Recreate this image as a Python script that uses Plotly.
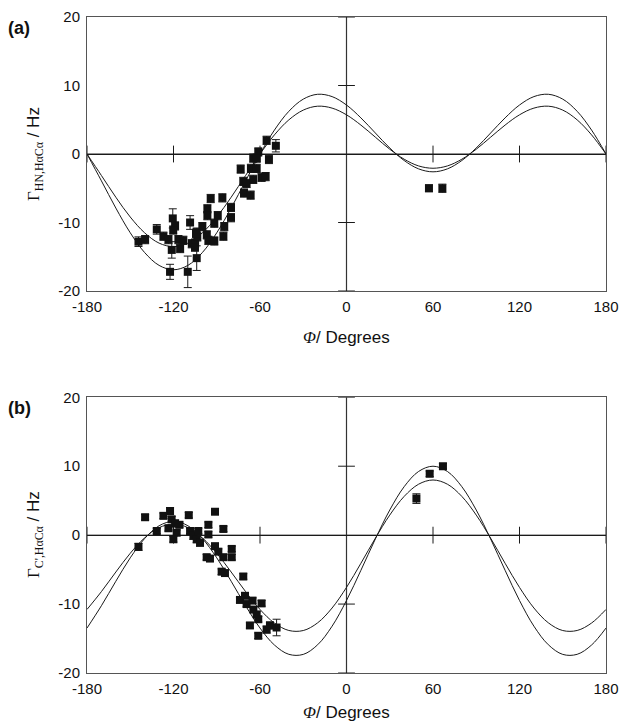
import plotly.graph_objects as go

# ---------------- data ----------------
X_TICKS = [-180, -120, -60, 0, 60, 120, 180]
X_TICK_TEXT = ["-180", "-120", "-60", "0", "60", "120", "180"]
Y_TICKS = [-20, -10, 0, 10, 20]
Y_TICK_TEXT = ["-20", "-10", "0", "10", "20"]

PHI_CURVE = [-180, -170, -160, -150, -140, -130, -120, -110, -100, -90, -80, -70, -60,
             -50, -40, -30, -20, -10, 0, 10, 20, 30, 40, 50, 60, 70, 80, 90, 100,
             110, 120, 130, 140, 150, 160, 170, 180]

# panel (a) model curves
A_CURVE_OUTER = [0.0, -3.92, -7.89, -11.50, -14.39, -16.26, -16.90, -16.26, -14.39, -11.50,
                 -7.89, -3.92, 0.0, 3.49, 6.23, 8.01, 8.72, 8.38, 7.15, 5.27, 3.07, 0.88,
                 -0.95, -2.17, -2.60, -2.17, -0.95, 0.88, 3.07, 5.27, 7.15, 8.38, 8.72,
                 8.01, 6.23, 3.49, 0.0]
A_CURVE_INNER = [0.0, -3.14, -6.31, -9.20, -11.51, -13.01, -13.52, -13.01, -11.51, -9.20,
                 -6.31, -3.14, 0.0, 2.79, 4.98, 6.41, 6.98, 6.70, 5.72, 4.22, 2.46, 0.70,
                 -0.76, -1.74, -2.08, -1.74, -0.76, 0.70, 2.46, 4.22, 5.72, 6.70, 6.98,
                 6.41, 4.98, 2.79, 0.0]

# panel (b) model curves
B_CURVE_OUTER = [-13.48, -10.24, -6.69, -3.29, -0.49, 1.36, 2.00, 1.36, -0.49, -3.29,
                 -6.69, -10.24, -13.48, -15.94, -17.29, -17.30, -15.90, -13.21, -9.48,
                 -5.10, -0.56, 3.64, 7.03, 9.24, 10.00, 9.24, 7.03, 3.64, -0.56, -5.10,
                 -9.48, -13.21, -15.90, -17.30, -17.29, -15.94, -13.48]
B_CURVE_INNER = [-10.78, -8.19, -5.35, -2.63, -0.39, 1.09, 1.60, 1.09, -0.39, -2.63,
                 -5.35, -8.19, -10.78, -12.75, -13.83, -13.84, -12.72, -10.57, -7.58,
                 -4.08, -0.45, 2.91, 5.62, 7.39, 8.00, 7.39, 5.62, 2.91, -0.45, -4.08,
                 -7.58, -10.57, -12.72, -13.84, -13.83, -12.75, -10.78]

# panel (a) measured points
A_PHI = [-144.3, -139.7, -131.6, -127.0, -123.5, -120.5, -118.9, -120.2, -121.2, -122.4,
         -116.6, -115.4, -113.2, -108.5, -110.1, -107.3, -105.0, -105.1, -103.9, -103.5,
         -103.9, -100.0, -104.4, -96.9, -95.8, -96.5, -96.5, -94.2, -91.7, -91.7,
         -89.3, -86.1, -85.4, -84.8, -80.1, -80.1, -73.4, -71.6, -69.3, -71.1,
         -66.5, -66.3, -64.7, -64.7, -62.3, -61.2, -62.3, -58.9, -56.1, -53.8,
         -55.4, -49.0, 57.2, 66.5]
A_GAMMA = [-12.8, -12.5, -11.0, -12.0, -12.5, -9.4, -10.5, -11.1, -14.0, -17.2,
           -12.5, -13.8, -12.6, -10.0, -17.2, -13.1, -13.0, -13.6, -11.4, -12.1,
           -15.2, -10.6, -11.6, -11.8, -12.6, -8.0, -9.0, -6.5, -10.1, -12.7,
           -9.0, -6.4, -12.0, -10.6, -7.8, -9.3, -2.2, -4.0, -4.3, -5.7,
           -6.0, -2.1, -3.7, -0.6, -2.1, 0.3, -0.6, -3.4, -3.3, -0.8,
           2.0, 1.2, -5.0, -5.0]
A_ERR = [0.7, 0.6, 0.7, 0.6, 0.6, 1.4, 0.6, 0.6, 1.2, 1.1,
         0.6, 0.6, 0.6, 1.0, 2.3, 0.6, 0.6, 0.6, 0.6, 0.6,
         1.8, 0.6, 0.6, 0.6, 0.6, 0.6, 0.6, 0.6, 0.6, 0.6,
         0.6, 0.6, 0.6, 0.6, 0.6, 0.6, 0.6, 0.6, 0.6, 0.6,
         0.6, 0.6, 0.6, 0.6, 0.6, 0.6, 0.6, 0.6, 0.6, 0.6,
         0.6, 0.9, 0.5, 0.6]

# panel (b) measured points
B_PHI = [-144.3, -139.7, -131.6, -127.0, -122.4, -121.3, -123.5, -118.9, -115.9, -117.8,
         -120.1, -109.4, -108.5, -106.2, -103.9, -102.8, -101.6, -95.8, -95.8, -91.2,
         -85.4, -91.2, -88.9, -85.4, -79.6, -79.6, -97.0, -94.7, -86.6, -84.3,
         -71.6, -73.9, -70.4, -69.3, -65.2, -64.6, -62.3, -58.9, -61.2, -67.0,
         -61.2, -55.4, -53.1, -48.5, 48.5, 57.7, 66.9]
B_GAMMA = [-1.7, 2.6, 0.6, 2.8, 3.5, 2.3, 1.0, 1.7, 1.5, 0.35,
           -0.6, 2.9, 0.6, -0.1, -0.6, 0.6, -1.1, 1.5, 0.1, 3.4,
           0.9, -1.6, -2.4, -3.2, -2.0, -3.2, -3.2, -3.4, -5.3, -5.5,
           -6.0, -9.4, -8.8, -10.0, -9.5, -10.8, -11.5, -9.9, -12.2, -13.1,
           -14.6, -13.7, -13.1, -13.4, 5.3, 8.9, 10.0]
B_ERR = [0.5, 0.4, 0.4, 0.4, 0.5, 0.4, 0.4, 0.5, 0.4, 0.4,
         0.4, 0.4, 0.4, 0.5, 0.5, 0.4, 0.5, 0.4, 0.4, 0.4,
         0.4, 0.4, 0.4, 0.4, 0.4, 0.4, 0.4, 0.4, 0.4, 0.4,
         0.4, 0.4, 0.4, 0.4, 0.4, 0.4, 0.4, 0.4, 0.4, 0.4,
         0.4, 0.5, 0.5, 1.2, 0.7, 0.4, 0.4]

ZERO_LINE_XTICKS = [-180, -120, -60, 60, 120, 180]
ZERO_LINE_YTICKS = [-20, -10, 10, 20]

# ---------------- figure ----------------
INK = "#1a1a1a"
FRAME = "#555555"
SANS = "Liberation Sans, Arial, sans-serif"

fig = go.Figure()

panels = [
    ("x", "y", A_CURVE_OUTER, A_CURVE_INNER, A_PHI, A_GAMMA, A_ERR),
    ("x2", "y2", B_CURVE_OUTER, B_CURVE_INNER, B_PHI, B_GAMMA, B_ERR),
]

for xa, ya, outer, inner, px, py, pe in panels:
    for curve in (outer, inner):
        fig.add_trace(go.Scatter(
            x=PHI_CURVE, y=curve, mode="lines", xaxis=xa, yaxis=ya,
            line=dict(color=INK, width=1, shape="spline", smoothing=1.0),
            showlegend=False, hoverinfo="skip"))
    # cross ticks on the zero lines
    fig.add_trace(go.Scatter(
        x=ZERO_LINE_XTICKS, y=[0] * len(ZERO_LINE_XTICKS), mode="markers",
        xaxis=xa, yaxis=ya,
        marker=dict(symbol="line-ns", size=12, line=dict(color=INK, width=1)),
        showlegend=False, hoverinfo="skip"))
    fig.add_trace(go.Scatter(
        x=[0] * len(ZERO_LINE_YTICKS), y=ZERO_LINE_YTICKS, mode="markers",
        xaxis=xa, yaxis=ya,
        marker=dict(symbol="line-ew", size=12, line=dict(color=INK, width=1)),
        showlegend=False, hoverinfo="skip"))
    fig.add_trace(go.Scatter(
        x=px, y=py, mode="markers", xaxis=xa, yaxis=ya,
        marker=dict(symbol="square", size=8, color="#111111"),
        error_y=dict(type="data", array=pe, visible=True, color=INK,
                     thickness=1, width=4),
        showlegend=False, hoverinfo="skip"))

axis_common = dict(
    range=[-180, 180], tickmode="array", tickvals=X_TICKS, ticktext=X_TICK_TEXT,
    showline=True, mirror=True, linecolor=FRAME, linewidth=1, ticks="",
    showgrid=False, zeroline=False, automargin=False,
    tickfont=dict(family=SANS, size=15, color="#111111"), ticklabelstandoff=2,
)
yaxis_common = dict(
    range=[-20, 20], tickmode="array", tickvals=Y_TICKS, ticktext=Y_TICK_TEXT,
    showline=True, mirror=True, linecolor=FRAME, linewidth=1, ticks="",
    showgrid=False, zeroline=True, zerolinecolor=INK, zerolinewidth=1,
    automargin=False,
    tickfont=dict(family=SANS, size=15, color="#111111"), ticklabelstandoff=3,
)

fig.update_layout(
    width=622, height=725, autosize=False,
    margin=dict(l=87, r=16, t=17, b=52),
    paper_bgcolor="white", plot_bgcolor="white",
    xaxis=dict(axis_common, anchor="y"),
    yaxis=dict(yaxis_common, domain=[0.5823, 1.0], anchor="x"),
    xaxis2=dict(axis_common, anchor="y2"),
    yaxis2=dict(yaxis_common, domain=[0.0, 0.4203], anchor="x2"),
    font=dict(family=SANS, color="#111111"),
)

# zero lines across each panel
for xa, ya in (("x", "y"), ("x2", "y2")):
    fig.add_shape(type="line", xref=xa, yref=ya, x0=0, x1=0, y0=-20, y1=20,
                  line=dict(color="#333333", width=1.2), layer="below")
    fig.add_shape(type="line", xref=xa, yref=ya, x0=-180, x1=180, y0=0, y1=0,
                  line=dict(color="#222222", width=1), layer="below")

phi_title = "<span style='font-family:Liberation Serif'><i>Φ</i></span>/ Degrees"
annotations = [
    dict(text=phi_title, x=0.5, y=(673 - 337) / 656, xref="paper", yref="paper",
         showarrow=False, xanchor="center", yanchor="middle",
         font=dict(family=SANS, size=17)),
    dict(text=phi_title, x=0.5, y=(673 - 712) / 656, xref="paper", yref="paper",
         showarrow=False, xanchor="center", yanchor="middle",
         font=dict(family=SANS, size=17)),
    dict(text="<span style='font-family:Liberation Serif'>Γ<sub>HN,HαCα</sub></span> / Hz",
         x=(35 - 87) / 519, y=(673 - 154) / 656, xref="paper", yref="paper",
         showarrow=False, textangle=-90, xanchor="center", yanchor="middle",
         font=dict(family=SANS, size=17)),
    dict(text="<span style='font-family:Liberation Serif'>Γ<sub>C',HαCα</sub></span> / Hz",
         x=(35 - 87) / 519, y=(673 - 535) / 656, xref="paper", yref="paper",
         showarrow=False, textangle=-90, xanchor="center", yanchor="middle",
         font=dict(family=SANS, size=17)),
    dict(text="<b>(a)</b>", x=(6 - 87) / 519, y=(673 - 28) / 656, xref="paper",
         yref="paper", showarrow=False, xanchor="left", yanchor="middle",
         font=dict(family=SANS, size=18)),
    dict(text="<b>(b)</b>", x=(6 - 87) / 519, y=(673 - 408) / 656, xref="paper",
         yref="paper", showarrow=False, xanchor="left", yanchor="middle",
         font=dict(family=SANS, size=18)),
]
fig.update_layout(annotations=annotations)

fig.write_html(
    "out.html",
    config={"responsive": False, "displayModeBar": False},
    post_script="document.body.style.margin='0';document.body.style.overflow='hidden';",
)
